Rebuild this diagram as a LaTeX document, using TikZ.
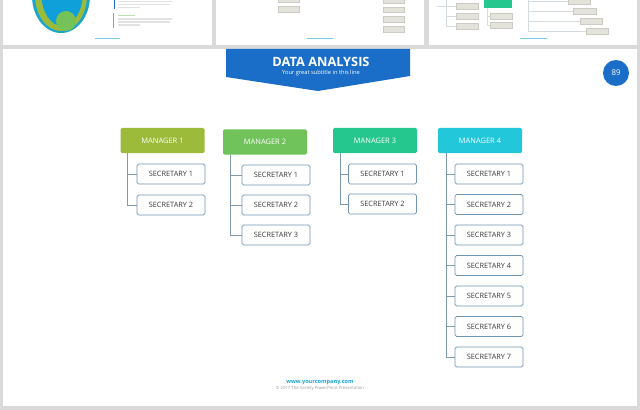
\documentclass[tikz,border=0pt]{standalone}
\usepackage{fontspec}
\setmainfont{Open Sans}
\definecolor{bgc}{HTML}{DADADA}
\definecolor{bluec}{HTML}{1A6EC8}
\definecolor{m1c}{HTML}{9DBB3A}
\definecolor{m2c}{HTML}{70C35B}
\definecolor{m3c}{HTML}{26C68F}
\definecolor{m4c}{HTML}{22C7DA}
\definecolor{secb}{HTML}{6F95B6}
\definecolor{conc}{HTML}{7E9AB2}
\definecolor{txt}{HTML}{3A3A3A}
\definecolor{cyanc}{HTML}{1EA6D6}
\definecolor{thumbg}{HTML}{E3E3DC}
\definecolor{thumbb}{HTML}{CCCCC4}
\definecolor{thumbl}{HTML}{D3DAE0}
\definecolor{thumbt}{HTML}{E2E2E2}
\definecolor{tealc}{HTML}{1AA6CC}
\definecolor{innerb}{HTML}{0F9FD9}
\begin{document}
\begin{tikzpicture}[x=0.75pt,y=-0.75pt,
  mgr/.style={rounded corners=1.2pt, minimum width=63pt, minimum height=19pt, inner sep=0pt, text=white, font=\fontsize{5.6}{6}\selectfont},
  sec/.style={draw=secb, line width=0.6pt, fill=white, rounded corners=1.2pt, minimum width=51pt, minimum height=15pt, inner sep=0pt, text=txt, font=\fontsize{5.5}{6}\selectfont},
  conn/.style={draw=conc, line width=0.6pt},
  gbox/.style={fill=thumbg, draw=thumbb, line width=0.3pt},
  tline/.style={draw=thumbl, line width=0.4pt},
  ttext/.style={draw=thumbt, line width=0.8pt},
  fline/.style={draw=cyanc!60, line width=0.5pt}]
\useasboundingbox (0,0) rectangle (640,410);
\fill[bgc] (0,0) rectangle (640,410);
% top thumbnails
\fill[white] (3,-2) rectangle (212,45);
\fill[white] (216,-2) rectangle (424,45);
\fill[white] (429,-2) rectangle (637,45);
\begin{scope}
  \clip (3,-2) rectangle (212,45);
  \fill[tealc] (61,-4) ellipse [x radius=21.75pt, y radius=27.75pt];
  \fill[m1c] (61,-5) ellipse [x radius=19.5pt, y radius=27pt];
  \fill[innerb] (62,-8) ellipse [x radius=15.75pt, y radius=25.5pt];
  \fill[m2c!90!m1c] (66,21) circle [radius=7.5pt];
  \fill[bluec] (113.5,-1) rectangle (115,9);
  \draw[ttext] (118,1.5) -- (172,1.5) (118,4.5) -- (170,4.5) (118,7.5) -- (140,7.5);
  \fill[m2c] (112.5,13) rectangle (114,28);
  \draw[ttext, draw=m2c!50] (118,15.5) -- (135,15.5);
  \draw[ttext] (118,19) -- (172,19) (118,22) -- (170,22) (118,25) -- (140,25);
  \draw[fline] (95,38.5) -- (120,38.5);
\end{scope}
\draw[gbox] (278,-2) rectangle (299,2);
\draw[gbox] (278,6) rectangle (299,12);
\draw[gbox] (383,-2) rectangle (404,3);
\draw[gbox] (383,7) rectangle (404,12);
\draw[gbox] (383,16) rectangle (404,22);
\draw[gbox] (383,26) rectangle (404,32);
\draw[fline] (307,38.5) -- (333,38.5);
\begin{scope}
  \clip (429,-2) rectangle (637,45);
  \draw[tline] (446,-1) -- (446,26) (437,6) -- (456,6) (446,16) -- (456,16) (446,26) -- (456,26);
  \draw[gbox] (456,3) rectangle (478,9);
  \draw[gbox] (456,13) rectangle (478,19);
  \draw[gbox] (456,23) rectangle (478,29);
  \fill[m3c] (484,-2) rectangle (512,8);
  \draw[tline] (487,8) -- (487,25) (487,16) -- (490,16) (487,25) -- (490,25);
  \draw[gbox] (490,13) rectangle (512,19);
  \draw[gbox] (490,22) rectangle (512,28);
  \draw[tline] (528,-1) -- (528,31) (528,1) -- (568,1) (528,11) -- (573,11) (528,21) -- (580,21) (528,31) -- (586,31);
  \draw[gbox] (568,-2) rectangle (590,4);
  \draw[gbox] (573,8) rectangle (596,14);
  \draw[gbox] (580,18) rectangle (602,24);
  \draw[gbox] (586,28) rectangle (608,34);
  \draw[fline] (520,38.5) -- (547,38.5);
\end{scope}
% main slide
\fill[white] (3,49) rectangle (637,406);
\fill[bluec] (226,49) -- (410,49) -- (410,76) -- (318,91) -- (226,77) -- cycle;
\node[text=white, font=\bfseries\fontsize{9.6}{11}\selectfont, inner sep=0pt] (title) at (321,62) {DATA ANALYSIS};
\node[text=white, font=\fontsize{4.3}{5}\selectfont, inner sep=0pt] (subtitle) at (321,73.5) {Your great subtitle in this line};
\node[circle, fill=bluec, minimum size=19.5pt, inner sep=0pt, text=white, font=\fontsize{5.9}{7}\selectfont] (pg) at (616,73) {89};
% managers
\node[mgr, fill=m1c] (m1) at (162.5,140.5) {MANAGER 1};
\node[mgr, fill=m2c] (m2) at (265,142) {MANAGER 2};
\node[mgr, fill=m3c] (m3) at (375,140.5) {MANAGER 3};
\node[mgr, fill=m4c] (m4) at (480,140.5) {MANAGER 4};
% secretaries
\node[sec] (s11) at (171,174) {SECRETARY 1};
\node[sec] (s12) at (171,205) {SECRETARY 2};
\node[sec] (s21) at (276,175) {SECRETARY 1};
\node[sec] (s22) at (276,205) {SECRETARY 2};
\node[sec] (s23) at (276,235) {SECRETARY 3};
\node[sec] (s31) at (382.5,174) {SECRETARY 1};
\node[sec] (s32) at (382.5,204) {SECRETARY 2};
\foreach \i in {1,...,7} {
  \node[sec] (s4\i) at (489,{174+30.5*(\i-1)}) {SECRETARY \i};
}
% connectors
\coordinate (t1) at ([xshift=5.5pt]m1.south west);
\coordinate (t2) at ([xshift=6pt]m2.south west);
\coordinate (t3) at ([xshift=6pt]m3.south west);
\coordinate (t4) at ([xshift=6.5pt]m4.south west);
\foreach \s in {s11,s12} { \draw[conn] (t1) |- (\s.west); }
\foreach \s in {s21,s22,s23} { \draw[conn] (t2) |- (\s.west); }
\foreach \s in {s31,s32} { \draw[conn] (t3) |- (\s.west); }
\foreach \i in {1,...,7} { \draw[conn] (t4) |- (s4\i.west); }
% footer
\node[text=cyanc, font=\bfseries\fontsize{4.2}{5}\selectfont, inner sep=0pt] (url) at (320,382.3) {www.yourcompany.com};
\node[text=gray!80, font=\fontsize{3.2}{4}\selectfont, inner sep=0pt] (copy) at (320,388) {© 2017 The Variety PowerPoint Presentation};
\end{tikzpicture}
\end{document}
